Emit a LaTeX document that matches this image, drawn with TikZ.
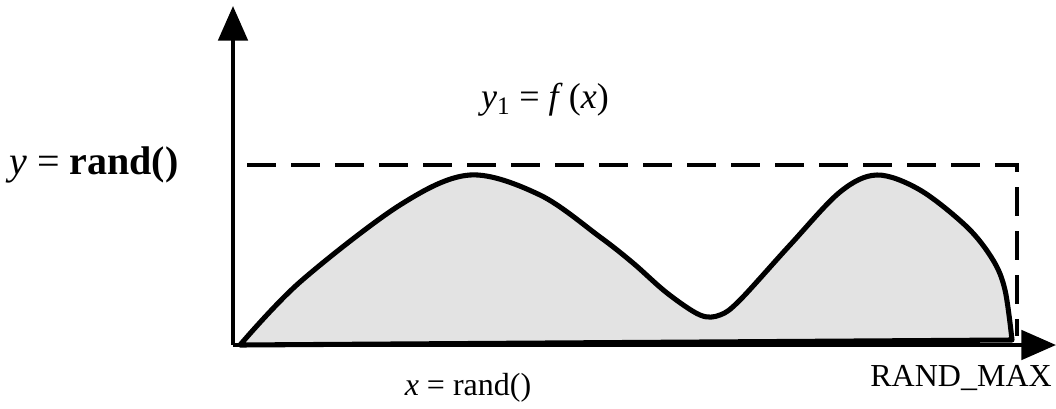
\documentclass[tikz,border=0pt]{standalone}
\usepackage{fontspec}
\setmainfont{Liberation Serif}
\usetikzlibrary{arrows.meta, positioning}

\begin{document}
\begin{tikzpicture}[
    x=0.75pt, y=-0.75pt,
    font=\fontsize{24}{28}\selectfont,
    every node/.style={align=center, inner sep=0pt},
    axis/.style ={line width=3pt, -{Triangle[length=26pt, width=22pt]}},
    bound/.style={line width=3pt, dash pattern=on 22pt off 11pt},
    curve/.style={line width=3.8pt, fill=gray!22, line join=round}
]
\useasboundingbox (0,0) rectangle (1056,408);

% Corners of the box
\coordinate (o)    at (233,345);
\coordinate (ytop) at (233,6);
\coordinate (xend) at (1056,345);
\coordinate (tl)   at (247,165);
\coordinate (tr)   at (1017,165);
\coordinate (br)   at (1017,336);

% Area under f(x)
\draw[curve] plot[smooth, tension=0.55] coordinates {
    (240,345) (300,282) (400,205) (470,175) (540,195) (600,237)
    (633,263) (667,293) (700,315) (720,315) (740,300) (790,245)
    (840,192) (877,175) (920,190) (967,227) (993,260) (1005,290)
    (1012,340)} -- cycle;

% Dashed bound
\draw[bound] (tl) -- (tr) -- (br);

% Axes
\draw[axis] (o) -- (ytop);
\draw[axis] (o) -- (xend);

% Labels
\node[font=\fontsize{30}{34}\selectfont] (ylab) at (94,165)
    {\textit{y} = \textbf{rand()}};
\node[font=\fontsize{27}{30}\selectfont] (flab) at (545,100)
    {\textit{y}\textsubscript{1} = \textit{f}\,(\textit{x})};
\node (xlab)  at (468,388) {\textit{x} = rand()};
\node[anchor=east] (mlab) at (1052,378) {RAND\_MAX};
\end{tikzpicture}
\end{document}
